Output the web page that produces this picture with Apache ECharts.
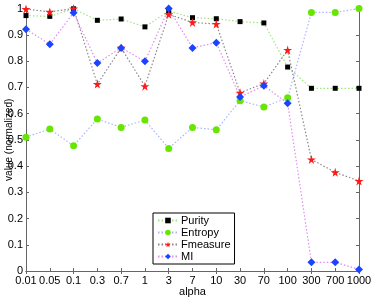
<!DOCTYPE html>
<html><head><meta charset="utf-8">
<script src="https://cdn.jsdelivr.net/npm/echarts@6/dist/echarts.min.js"></script>
<style>html,body{margin:0;padding:0;background:#fff}#c{width:374px;height:299px}</style>
</head><body><div id="c"></div>
<script>
var categories = ['0.01','0.05','0.1','0.3','0.7','1','3','7','10','30','70','100','300','700','1000'];
var purity   = [0.973,0.970,0.999,0.955,0.960,0.930,0.990,0.965,0.961,0.950,0.945,0.777,0.696,0.696,0.696];
var entropy  = [0.510,0.541,0.477,0.579,0.547,0.575,0.467,0.547,0.538,0.649,0.625,0.660,0.985,0.985,1.000];
var fmeasure = [0.998,0.987,1.000,0.712,0.850,0.704,0.978,0.947,0.941,0.679,0.714,0.842,0.425,0.376,0.343];
var mi       = [0.921,0.864,0.984,0.792,0.850,0.799,1.000,0.850,0.870,0.663,0.706,0.639,0.033,0.033,0.006];
var yTicks = ['0','0.1','0.2','0.3','0.4','0.5','0.6','0.7','0.8','0.9','1'];

var star = 'path://M50,0 L61,35 L98,35 L68,57 L79,91 L50,70 L21,91 L32,57 L2,35 L39,35 Z';
var font = 'Liberation Sans';
var axisCol = '#666';
var chart = echarts.init(document.getElementById('c'), null, {renderer:'canvas'});
function mk(name, data, sym, size, col, lineCol){
  return {name:name, type:'line', data:data, symbol:sym, symbolSize:size,
    itemStyle:{color:col}, lineStyle:{color:lineCol, width:1.2, type:[1.5,2]},
    emphasis:{disabled:true}, animation:false};
}
chart.setOption({
  animation:false,
  textStyle:{fontFamily:font},
  grid:{left:26, right:15, top:8.5, bottom:28, containLabel:false, outerBoundsMode:'none'},
  legend:{orient:'vertical', left:153, top:213, width:81,
    backgroundColor:'#fff', borderColor:'#000', borderWidth:1,
    padding:[2,4,2,4], itemGap:1, itemWidth:20, itemHeight:7,
    textStyle:{fontFamily:font, fontSize:11, color:'#000', padding:[0,0,0,-2]},
    data:['Purity','Entropy','Fmeasure','MI']},
  xAxis:[
    {type:'category', data:categories, boundaryGap:false, position:'bottom',
     name:'alpha', nameLocation:'middle', nameGap:15, nameMoveOverlap:false,
     nameTextStyle:{fontFamily:font, fontSize:11, color:'#000', verticalAlign:'top'},
     axisLine:{lineStyle:{color:axisCol}}, axisTick:{inside:true, length:3, lineStyle:{color:axisCol}},
     axisLabel:{fontFamily:font, fontSize:11, color:'#000', margin:4, interval:0, hideOverlap:false}},
    {type:'category', data:categories, boundaryGap:false, position:'top',
     axisLine:{lineStyle:{color:axisCol}}, axisTick:{inside:true, length:3, lineStyle:{color:axisCol}},
     axisLabel:{show:false}}
  ],
  yAxis:[
    {type:'value', min:0, max:1, interval:0.1, position:'left',
     name:'value (normalized)', nameLocation:'middle', nameGap:12, nameMoveOverlap:false,
     nameTextStyle:{fontFamily:font, fontSize:10, color:'#000'},
     splitLine:{show:false},
     axisLine:{show:true, lineStyle:{color:axisCol}}, axisTick:{show:true, inside:true, length:3, lineStyle:{color:axisCol}},
     axisLabel:{fontFamily:font, fontSize:11, color:'#000', margin:3,
       formatter:function(v){return yTicks[Math.round(v*10)];}}},
    {type:'value', min:0, max:1, interval:0.1, position:'right',
     splitLine:{show:false},
     axisLine:{show:true, lineStyle:{color:axisCol}}, axisTick:{show:true, inside:true, length:3, lineStyle:{color:axisCol}},
     axisLabel:{show:false}}
  ],
  series:[
    mk('Purity', purity, 'rect', 5, '#000', '#9ee67a'),
    mk('Entropy', entropy, 'circle', 7, '#66e600', '#a8b4ff'),
    mk('Fmeasure', fmeasure, star, 9, '#ff1a1a', '#888'),
    mk('MI', mi, 'diamond', 8, '#1a44ff', '#e08cf0')
  ]
});
</script></body></html>
